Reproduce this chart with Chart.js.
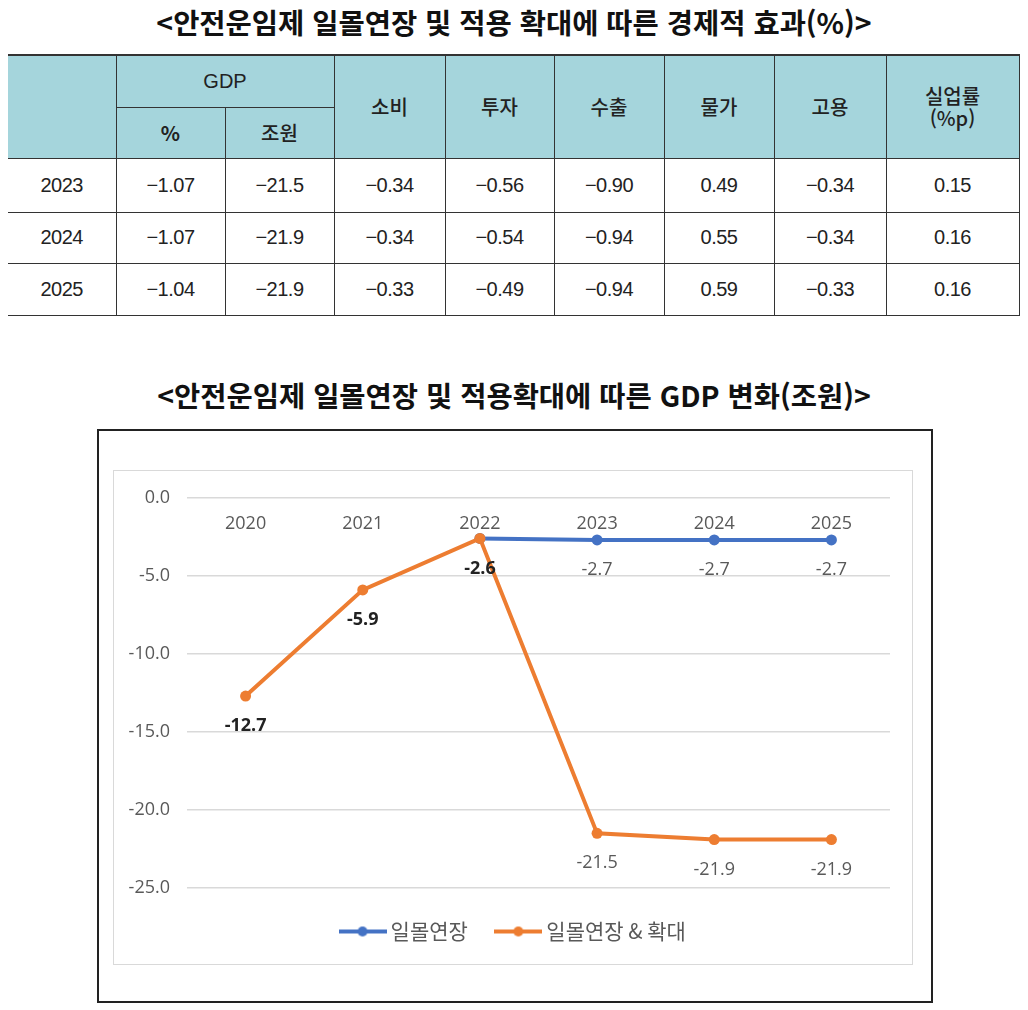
<!DOCTYPE html>
<html lang="ko">
<head>
<meta charset="utf-8">
<script src="https://cdn.jsdelivr.net/npm/chart.js@4.4.0/dist/chart.umd.min.js"></script>
<style>
  body {
    margin: 0;
    width: 1028px;
    height: 1010px;
    position: relative;
    overflow: hidden;
    background: #fff;
    font-family: "Noto Sans CJK KR", sans-serif;
  }
  .title {
    position: absolute;
    left: 0;
    width: 1028px;
    text-align: center;
    font-size: 28.5px;
    line-height: 34px;
    font-weight: 700;
    color: #111;
  }
  #title1 { top: 5px; }
  #title2 { top: 378px; }

  #effectTable {
    position: absolute;
    left: 8px;
    top: 54px;
    border-collapse: collapse;
    table-layout: fixed;
    color: #222;
  }
  #effectTable th, #effectTable td {
    border: 1px solid #333;
    padding: 0;
    text-align: center;
    vertical-align: middle;
  }
  #effectTable th {
    background: #a5d5dc;
    font-weight: 500;
    font-size: 20px;
    line-height: 22px;
  }
  #effectTable thead tr:first-child th { border-top: 2px solid #333; }
  #effectTable .gdp { font-family: "Liberation Sans", sans-serif; font-weight: 400; }
  #effectTable td {
    font-family: "Liberation Sans", sans-serif;
    font-size: 20px;
    letter-spacing: -0.5px;
  }
  #effectTable tr > :first-child { border-left: none; }

  #frame {
    position: absolute;
    left: 97px;
    top: 429px;
    width: 832px;
    height: 570px;
    border: 2px solid #222;
  }
  #panel {
    position: absolute;
    left: 113px;
    top: 470px;
    width: 798px;
    height: 493px;
    border: 1px solid #d9d9d9;
  }
  #gdpChart {
    position: absolute;
    left: 113px;
    top: 470px;
  }
</style>
</head>
<body>

<div class="title" id="title1">&lt;안전운임제 일몰연장 및 적용 확대에 따른 경제적 효과(%)&gt;</div>

<table id="effectTable">
  <colgroup>
    <col style="width:108px"><col style="width:109px"><col style="width:109px">
    <col style="width:111px"><col style="width:109px"><col style="width:110px">
    <col style="width:110px"><col style="width:112px"><col style="width:133px">
  </colgroup>
  <thead>
    <tr style="height:52px">
      <th rowspan="2"></th>
      <th colspan="2" class="gdp">GDP</th>
      <th rowspan="2">소비</th>
      <th rowspan="2">투자</th>
      <th rowspan="2">수출</th>
      <th rowspan="2">물가</th>
      <th rowspan="2">고용</th>
      <th rowspan="2">실업률<br>(%p)</th>
    </tr>
    <tr style="height:51px">
      <th style="font-weight:700">%</th>
      <th>조원</th>
    </tr>
  </thead>
  <tbody id="effectBody"></tbody>
</table>

<div class="title" id="title2">&lt;안전운임제 일몰연장 및 적용확대에 따른 GDP 변화(조원)&gt;</div>

<div id="frame"></div>
<div id="panel"></div>
<canvas id="gdpChart" width="800" height="495"></canvas>

<script>
// table values (%)
const tableYears = ["2023", "2024", "2025"];
const gdpPct = [-1.07, -1.07, -1.04];
const gdpTrillion = [-21.5, -21.9, -21.9];
const consumption = [-0.34, -0.34, -0.33];
const investment = [-0.56, -0.54, -0.49];
const exportsChg = [-0.90, -0.94, -0.94];
const prices = [0.49, 0.55, 0.59];
const employment = [-0.34, -0.34, -0.33];
const unemployment = [0.15, 0.16, 0.16];

// chart values (trillion won)
const chartYears = ["2020", "2021", "2022", "2023", "2024", "2025"];
const sunsetExtension = [null, null, -2.6, -2.7, -2.7, -2.7];
const sunsetExpansion = [-12.7, -5.9, -2.6, -21.5, -21.9, -21.9];
const seriesNames = ["일몰연장", "일몰연장 & 확대"];
const yMin = -25;
const yMax = 0;
const yStep = 5;

function fmt(v, digits) {
  const s = Math.abs(v).toFixed(digits);
  return v < 0 ? "\u2212" + s : s;
}

const rowHeights = [54, 51, 52];
const tbody = document.getElementById("effectBody");
tableYears.forEach((year, i) => {
  const row = document.createElement("tr");
  row.style.height = rowHeights[i] + "px";
  const cells = [
    year,
    fmt(gdpPct[i], 2),
    fmt(gdpTrillion[i], 1),
    fmt(consumption[i], 2),
    fmt(investment[i], 2),
    fmt(exportsChg[i], 2),
    fmt(prices[i], 2),
    fmt(employment[i], 2),
    fmt(unemployment[i], 2)
  ];
  row.innerHTML = cells.map((c) => `<td>${c}</td>`).join("");
  tbody.appendChild(row);
});

const blue = "#4472c4";
const orange = "#ed7d31";
const fontFamily = '"Open Sans", "Noto Sans CJK KR", sans-serif';
Chart.defaults.font.family = fontFamily;

function legendSwatch(color) {
  const c = document.createElement("canvas");
  c.width = 48;
  c.height = 14;
  const g = c.getContext("2d");
  g.strokeStyle = color;
  g.lineWidth = 4;
  g.beginPath();
  g.moveTo(0, 7);
  g.lineTo(48, 7);
  g.stroke();
  g.fillStyle = color;
  g.beginPath();
  g.arc(24, 7, 5, 0, Math.PI * 2);
  g.fill();
  return c;
}

// points where both scenarios share the same value (or only one exists)
function isCommon(i) {
  return sunsetExtension[i] === null || sunsetExtension[i] === sunsetExpansion[i];
}

const pointLabels = {
  id: "pointLabels",
  afterDatasetsDraw(chart) {
    const ctx = chart.ctx;
    ctx.save();
    ctx.textAlign = "center";
    ctx.textBaseline = "middle";
    chart.data.datasets.forEach((ds, di) => {
      const meta = chart.getDatasetMeta(di);
      meta.data.forEach((pt, i) => {
        const v = ds.data[i];
        if (v === null) return;
        if (di === 0 && isCommon(i)) return;
        const common = isCommon(i);
        ctx.font = (common ? "700 " : "400 ") + "18px " + fontFamily;
        ctx.fillStyle = common ? "#222" : "#595959";
        ctx.fillText(v.toFixed(1), pt.x, pt.y + 30);
      });
    });
    ctx.restore();
  }
};

// Excel centres the legend a little right of the canvas middle
const legendNudge = {
  id: "legendNudge",
  afterLayout(chart) {
    chart.legend.left += 14;
    chart.legend.right += 14;
  }
};

new Chart(document.getElementById("gdpChart"), {
  type: "line",
  data: {
    labels: chartYears,
    datasets: [
      {
        label: seriesNames[0],
        data: sunsetExtension,
        borderColor: blue,
        backgroundColor: blue,
        borderWidth: 4,
        pointRadius: 5.5,
        pointBorderWidth: 0,
        tension: 0,
        order: 1
      },
      {
        label: seriesNames[1],
        data: sunsetExpansion,
        borderColor: orange,
        backgroundColor: orange,
        borderWidth: 4,
        pointRadius: 5.5,
        pointBorderWidth: 0,
        tension: 0,
        order: 0
      }
    ]
  },
  options: {
    responsive: false,
    animation: false,
    layout: { padding: { top: 22, right: 23, bottom: 13, left: 0 } },
    plugins: {
      tooltip: { enabled: false },
      legend: {
        position: "bottom",
        labels: {
          usePointStyle: true,
          pointStyleWidth: 35,
          padding: 33,
          color: "#595959",
          font: { size: 21, family: '"Noto Sans CJK KR", sans-serif' },
          sort: (a, b) => a.datasetIndex - b.datasetIndex,
          generateLabels(chart) {
            const items = Chart.defaults.plugins.legend.labels.generateLabels(chart);
            items.forEach((item) => {
              item.pointStyle = legendSwatch(item.datasetIndex === 0 ? blue : orange);
            });
            return items;
          }
        }
      }
    },
    scales: {
      x: {
        position: { y: 0 },
        offset: true,
        grid: { display: false },
        border: { display: false },
        ticks: { color: "#595959", font: { size: 18 }, padding: 7 },
        afterFit(scale) { scale.height = 0; }
      },
      y: {
        min: yMin,
        max: yMax,
        grid: { color: "#d9d9d9", lineWidth: 1.5, drawTicks: false },
        border: { display: false },
        ticks: {
          stepSize: yStep,
          color: "#595959",
          font: { size: 18 },
          padding: 17,
          callback: (v) => v.toFixed(1)
        },
        afterFit(scale) { scale.width = 74; }
      }
    }
  },
  plugins: [pointLabels, legendNudge]
});
</script>
</body>
</html>
